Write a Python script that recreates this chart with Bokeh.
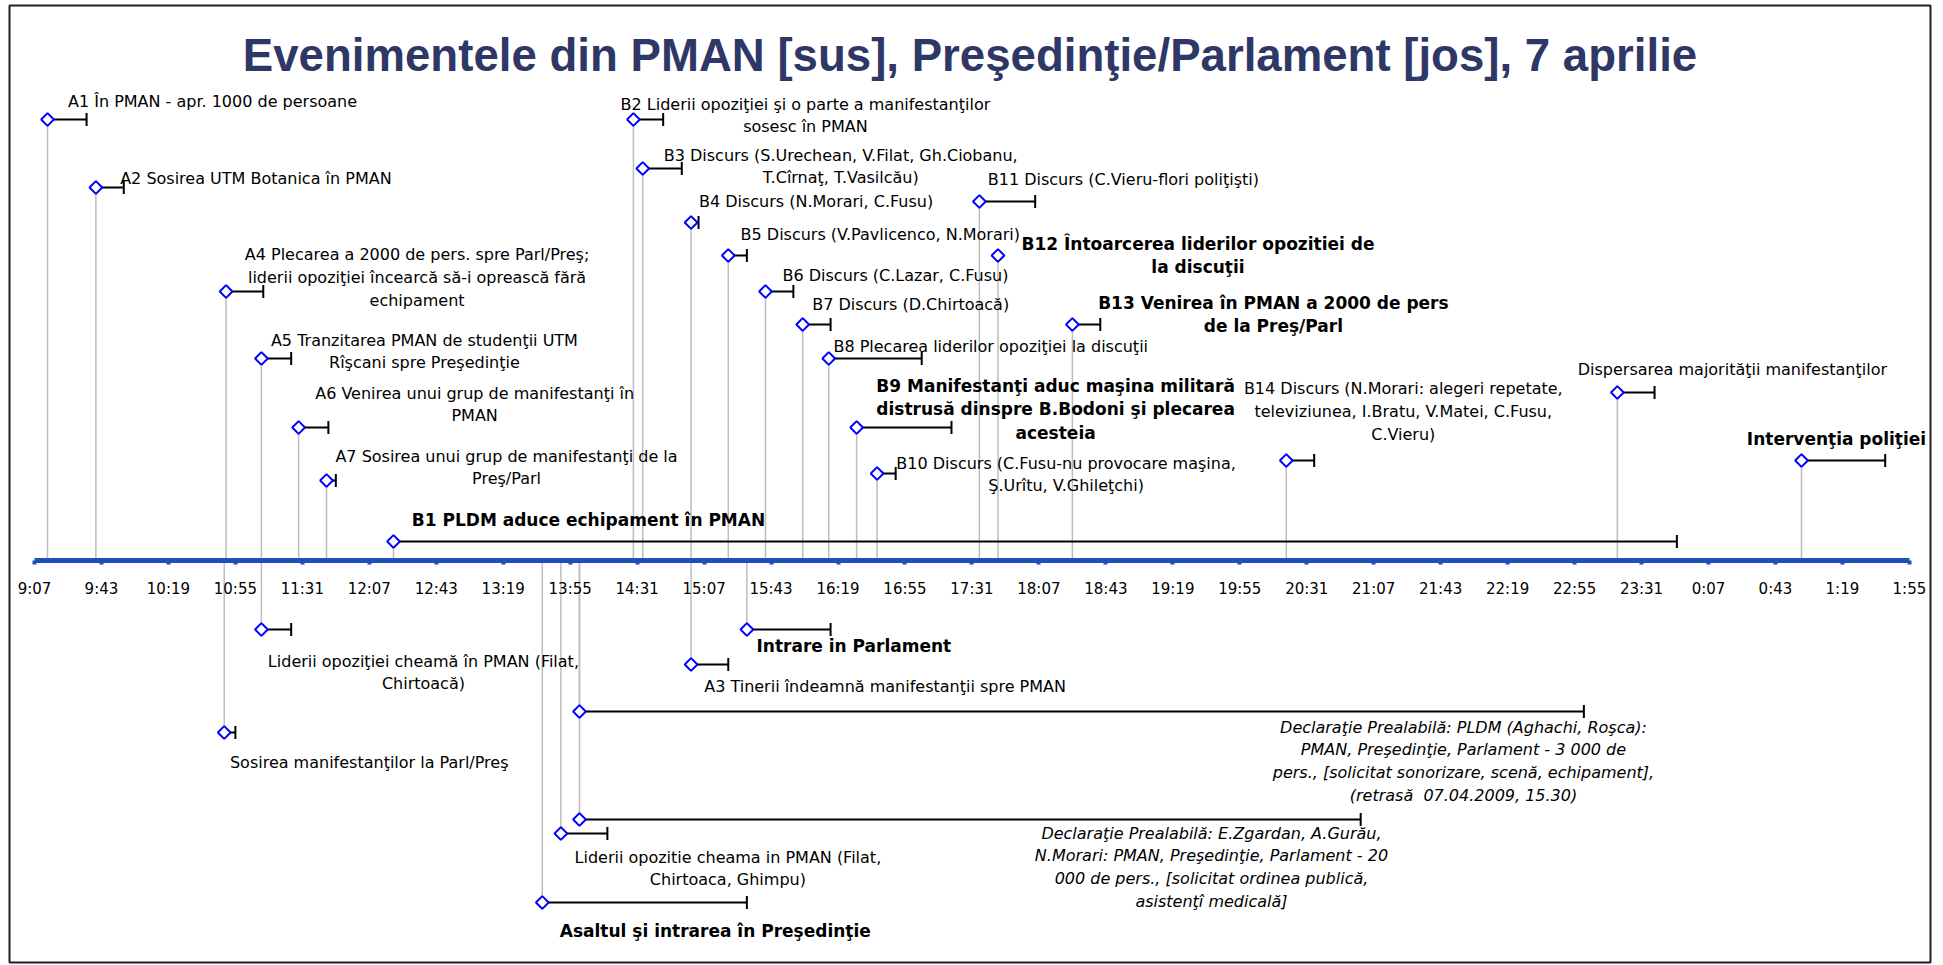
import math
from bokeh.plotting import figure
from bokeh.models import Range1d, FixedTicker, ColumnDataSource, Label
from bokeh.core.properties import value
from bokeh.embed import file_html
from bokeh.resources import INLINE

# ---------------- DATA ----------------
title_text = "Evenimentele din PMAN [sus], Preşedinţie/Parlament [jos], 7 aprilie"

tick_labels = ["9:07", "9:43", "10:19", "10:55", "11:31", "12:07", "12:43", "13:19",
               "13:55", "14:31", "15:07", "15:43", "16:19", "16:55", "17:31", "18:07",
               "18:43", "19:19", "19:55", "20:31", "21:07", "21:43", "22:19", "22:55",
               "23:31", "0:07", "0:43", "1:19", "1:55"]

# upper events (PMAN)
top_labels = [
    "A1 În PMAN - apr. 1000 de persoane",
    "A2 Sosirea UTM Botanica în PMAN",
    "A4 Plecarea a 2000 de pers. spre Parl/Preş;\nliderii opoziţiei încearcă să-i oprească fără\nechipament",
    "A5 Tranzitarea PMAN de studenţii UTM\nRîşcani spre Preşedinţie",
    "A6 Venirea unui grup de manifestanţi în\nPMAN",
    "A7 Sosirea unui grup de manifestanţi de la\nPreş/Parl",
    "B1 PLDM aduce echipament în PMAN",
    "B2 Liderii opoziţiei şi o parte a manifestanţilor\nsosesc în PMAN",
    "B3 Discurs (S.Urechean, V.Filat, Gh.Ciobanu,\nT.Cîrnaţ, T.Vasilcău)",
    "B4 Discurs (N.Morari, C.Fusu)",
    "B5 Discurs (V.Pavlicenco, N.Morari)",
    "B6 Discurs (C.Lazar, C.Fusu)",
    "B7 Discurs (D.Chirtoacă)",
    "B8 Plecarea liderilor opoziţiei la discuţii",
    "B9 Manifestanţi aduc maşina militară\ndistrusă dinspre B.Bodoni şi plecarea\nacesteia",
    "B10 Discurs (C.Fusu-nu provocare maşina,\nŞ.Urîtu, V.Ghileţchi)",
    "B11 Discurs (C.Vieru-flori poliţişti)",
    "B12 Întoarcerea liderilor opozitiei de\nla discuţii",
    "B13 Venirea în PMAN a 2000 de pers\nde la Preş/Parl",
    "B14 Discurs (N.Morari: alegeri repetate,\nteleviziunea, I.Bratu, V.Matei, C.Fusu,\nC.Vieru)",
    "Dispersarea majorităţii manifestanţilor",
    "Intervenţia poliţiei",
]
top_start = ["9:14", "9:40", "10:50", "11:09", "11:29", "11:44", "12:20", "14:29", "14:34",
             "15:00", "15:20", "15:40", "16:00", "16:14", "16:29", "16:40", "17:35", "17:45",
             "18:25", "20:20", "23:18", "0:57"]
top_end = ["9:35", "9:55", "11:10", "11:25", "11:45", "11:49", "23:50", "14:45", "14:55",
           "15:04", "15:30", "15:55", "16:15", "17:04", "17:20", "16:50", "18:05", "17:45",
           "18:40", "20:35", "23:38", "1:42"]
top_style = ["normal", "normal", "normal", "normal", "normal", "normal", "bold", "normal",
             "normal", "normal", "normal", "normal", "normal", "normal", "bold", "normal",
             "normal", "bold", "bold", "normal", "normal", "bold"]

# lower events (Preşedinţie / Parlament)
bottom_labels = [
    "Liderii opoziţiei cheamă în PMAN (Filat,\nChirtoacă)",
    "Sosirea manifestanţilor la Parl/Preş",
    "Intrare in Parlament",
    "A3 Tinerii îndeamnă manifestanţii spre PMAN",
    "Declaraţie Prealabilă: PLDM (Aghachi, Roşca):\nPMAN, Preşedinţie, Parlament - 3 000 de\npers., [solicitat sonorizare, scenă, echipament],\n(retrasă\u00a0 07.04.2009, 15.30)",
    "Declaraţie Prealabilă: E.Zgardan, A.Gurău,\nN.Morari: PMAN, Preşedinţie, Parlament - 20\n000 de pers., [solicitat ordinea publică,\nasistenţî medicală]",
    "Liderii opozitie cheama in PMAN (Filat,\nChirtoaca, Ghimpu)",
    "Asaltul şi intrarea în Preşedinţie",
]
bottom_start = ["11:09", "10:49", "15:30", "15:00", "14:00", "14:00", "13:50", "13:40"]
bottom_end = ["11:25", "10:55", "16:15", "15:20", "23:00", "21:00", "14:15", "15:30"]
bottom_style = ["normal", "normal", "bold", "normal", "italic", "italic", "normal", "bold"]

# ---------------- LAYOUT (pixels) ----------------
W, H = 1934, 964
FRAME_L, FRAME_T, FRAME_R, FRAME_B = 9, 5, 1930, 962
FW, FH = FRAME_R - FRAME_L, FRAME_B - FRAME_T
AXIS_Y = 555          # axis line, px below frame top
AXIS_X0 = 25          # px from frame left where first tick sits
PX_PER_MIN = 1.860
TITLE_BASE = 50       # title baseline, px below frame top

top_lane = [441, 373, 269, 202, 133, 80, 19, 441, 392, 338, 305, 269, 236, 202, 133, 87,
            359, 305, 236, 100, 168, 100]
top_dx = [165, 160, 191, 163, 176, 180, 195, 172, 198, 125, 152, 130, 108, 162, 199, 189,
          144, 200, 201, 117, 115, 35]
top_dy = [-18, -9, -14, -7, -23, -13, -22, -4, -2, -21, -21, -16, -20, -12, -18, 1,
          -22, 0, -10, -49, -23, -22]
bottom_lane = [-69, -172, -69, -104, -151, -259, -273, -342]
bottom_dx = [162, 145, 107, 194, 884, 632, 167, 173]
bottom_dy = [43, 30, 16, 22, 50, 48, 35, 28]


def to_min(s):
    h, m = map(int, s.split(":"))
    t = h * 60 + m
    return t + 1440 if h < 9 else t


tick_vals = [to_min(s) for s in tick_labels]
labels = top_labels + bottom_labels
x0 = [to_min(s) for s in top_start + bottom_start]
x1 = [to_min(s) for s in top_end + bottom_end]
styles = top_style + bottom_style
lane = top_lane + bottom_lane
dx = top_dx + bottom_dx
dy = top_dy + bottom_dy

xs = tick_vals[0] - AXIS_X0 / PX_PER_MIN
x_range = Range1d(xs, xs + FW / PX_PER_MIN)
y_range = Range1d(-(FH - AXIS_Y), AXIS_Y)

p = figure(width=W, height=H, x_range=x_range, y_range=y_range, y_axis_type=None,
           output_backend="svg", toolbar_location=None,
           min_border_left=FRAME_L, min_border_top=FRAME_T,
           min_border_right=W - FRAME_R, min_border_bottom=H - FRAME_B,
           background_fill_color="white", border_fill_color="white")
p.outline_line_color = "#222222"
p.outline_line_width = 2
p.xgrid.visible = False
p.ygrid.visible = False

ax = p.xaxis[0]
ax.fixed_location = 0
ax.bounds = (tick_vals[0], tick_vals[-1])
ax.ticker = FixedTicker(ticks=tick_vals)
ax.major_label_overrides = {v: s for v, s in zip(tick_vals, tick_labels)}
ax.axis_line_color = "#1F4FB8"
ax.axis_line_width = 5
ax.major_tick_line_color = "#1F4FB8"
ax.major_tick_line_width = 4
ax.major_tick_in = 0
ax.major_tick_out = 4
ax.minor_tick_line_color = None
ax.major_label_standoff = 15
ax.major_label_text_font = "DejaVu Sans"
ax.major_label_text_font_size = "15px"
ax.major_label_text_color = "black"

src = ColumnDataSource(dict(x0=x0, x1=x1, y=lane, label=labels, dx=dx, dy=dy))
p.segment(x0="x0", y0=0, x1="x0", y1="y", line_color="#BDBDBD", line_width=1.5, source=src)
p.segment(x0="x0", y0="y", x1="x1", y1="y", line_color="black", line_width=2, source=src)

cap_idx = [i for i in range(len(x0)) if x1[i] > x0[i]]
cap_src = ColumnDataSource(dict(x=[x1[i] for i in cap_idx], y=[lane[i] for i in cap_idx]))
p.scatter(x="x", y="y", marker="dash", size=13, angle=math.pi / 2, line_color="black",
          line_width=2, source=cap_src)
p.scatter(x="x0", y="y", marker="square", size=9, angle=math.pi / 4, line_color="#0000FF",
          fill_color="white", line_width=2, source=src)

for st, fs, lh in [("normal", "16px", 1.21), ("bold", "17px", 1.16), ("italic", "16px", 1.21)]:
    idx = [i for i in range(len(labels)) if styles[i] == st]
    s = ColumnDataSource(dict(x=[x0[i] for i in idx], y=[lane[i] for i in idx],
                              text=[labels[i] for i in idx], dx=[dx[i] for i in idx],
                              dy=[dy[i] for i in idx]))
    p.text(x="x", y="y", text="text", x_offset="dx", y_offset="dy", text_align="center",
           text_baseline="middle", text_font=value("DejaVu Sans"), text_font_size=fs,
           text_font_style=st, text_line_height=lh, text_color="black", source=s)

title = Label(x=(x_range.start + x_range.end) / 2, y=AXIS_Y - TITLE_BASE, text=title_text,
              text_align="center", text_baseline="alphabetic",
              text_font="Liberation Sans", text_font_style="bold", text_font_size="45.6px",
              text_color="#2E3766")
p.add_layout(title)

open("out.html", "w").write(file_html(p, INLINE))
